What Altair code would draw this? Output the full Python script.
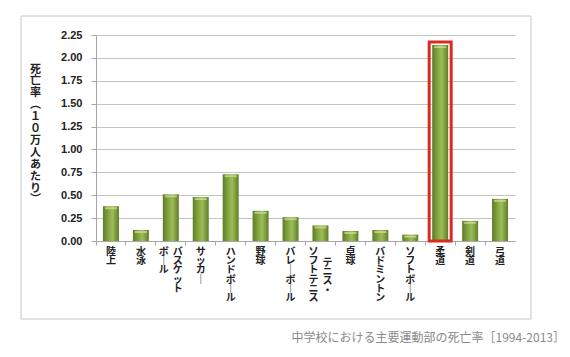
import altair as alt
import pandas as pd

categories = ["陸上", "水泳", "バスケットボール", "サッカー", "ハンドボール", "野球",
              "バレーボール", "テニス・ソフトテニス", "卓球", "バドミントン", "ソフトボール",
              "柔道", "剣道", "弓道"]
values = [0.38, 0.12, 0.51, 0.48, 0.73, 0.33, 0.26, 0.17, 0.11, 0.12, 0.07, 2.14, 0.22, 0.46]
label_columns = [["陸上"], ["水泳"], ["バスケット", "ボール"], ["サッカー"], ["ハンドボール"],
                 ["野球"], ["バレーボール"], ["テニス・", "ソフトテニス"], ["卓球"],
                 ["バドミントン"], ["ソフトボール"], ["柔道"], ["剣道"], ["弓道"]]
y_ticks = [0, 0.25, 0.5, 0.75, 1.0, 1.25, 1.5, 1.75, 2.0, 2.25]
highlight = "柔道"
y_title = "死亡率（１０万人あたり）"
caption = "中学校における主要運動部の死亡率［1994-2013］"

VERT = {"ー": "｜", "（": "︵", "）": "︶"}


def vertical(s):
    return [VERT.get(c, c) for c in s]


WIDTH, HEIGHT = 419, 206
half_band = WIDTH / len(categories) / 2

df = pd.DataFrame({"category": categories, "value": values})

rows = []
for cat, cols in zip(categories, label_columns):
    n = len(cols)
    for j, col in enumerate(cols):
        dx = 0 if n == 1 else (7 if j == 0 else -7)
        dy = 17 if (n == 2 and j == 0 and len(col) < len(cols[1])) else 6
        rows.append({"category": cat, "text": "\n".join(vertical(col)),
                     "dx": dx + half_band, "dy": dy})
labels_df = pd.DataFrame(rows)

FONT = "Noto Sans CJK JP"

grad = alt.LinearGradient(
    gradient="linear",
    stops=[alt.GradientStop(color="#5e7d28", offset=0),
           alt.GradientStop(color="#8fb14a", offset=0.45),
           alt.GradientStop(color="#9cbc57", offset=0.6),
           alt.GradientStop(color="#5e7d28", offset=1)],
    x1=0, x2=1, y1=0, y2=0)

base = alt.Chart(df)

bars = base.mark_bar(size=16, color=grad).encode(
    x=alt.X("category:N", sort=categories,
            scale=alt.Scale(paddingInner=0, paddingOuter=0),
            axis=alt.Axis(title=None, labels=False, bandPosition=0, tickSize=4,
                          domainColor="#a6a6a6", tickColor="#a6a6a6", grid=False)),
    y=alt.Y("value:Q", scale=alt.Scale(domain=[0, 2.25], nice=False),
            axis=alt.Axis(values=y_ticks, format=".2f", title=vertical(y_title),
                          titleAngle=0, titleX=-61, titleY=28, titleBaseline="top",
                          titleAlign="center", titleLineHeight=11.9, titleFontSize=11,
                          titleFont=FONT, titleFontWeight="bold", titleColor="#222222",
                          labelFont="Liberation Sans", labelFontWeight="bold",
                          labelFontSize=11, labelColor="#222222", labelPadding=9,
                          tickSize=5, tickColor="#a6a6a6", domainColor="#a6a6a6",
                          gridColor="#c4c4c4", gridWidth=1)),
)

caps = base.mark_tick(color="#cfe39a", thickness=2, size=12, yOffset=2).encode(
    x=alt.X("category:N", sort=categories, axis=None),
    y=alt.Y("value:Q", axis=None),
)

box = base.transform_filter(alt.datum.category == highlight).mark_bar(
    size=22, fillOpacity=0, stroke="#dc2a22", strokeWidth=3, yOffset=-3
).encode(
    x=alt.X("category:N", sort=categories, axis=None),
    y=alt.Y("value:Q", axis=None),
    y2=alt.value(243),
)

xlabels = alt.Chart(labels_df).mark_text(
    lineBreak="\n", baseline="top", align="center", fontSize=10, lineHeight=9.2,
    font=FONT, fontWeight="bold", color="#222222"
).encode(
    x=alt.X("category:N", sort=categories, axis=None),
    y=alt.YDatum(0, axis=None),
    xOffset=alt.XOffset("dx:Q", scale=None),
    yOffset=alt.YOffset("dy:Q", scale=None),
    text="text:N",
)

frame = alt.Chart(pd.DataFrame({"k": [0]})).mark_rect(
    fillOpacity=0, stroke="#c6c6c6", strokeWidth=1
).encode(x=alt.value(-75), x2=alt.value(435), y=alt.value(-19), y2=alt.value(284))

cap = alt.Chart(pd.DataFrame({"t": [caption]})).mark_text(
    align="right", baseline="middle", fontSize=12, font=FONT, color="#8a8a8a"
).encode(x=alt.value(469), y=alt.value(303), text="t:N")

chart = alt.layer(frame, bars, caps, box, xlabels, cap).resolve_axis(
    x="independent", y="independent"
).properties(
    width=WIDTH, height=HEIGHT,
    autosize=alt.AutoSizeParams(type="none"),
    padding={"left": 96, "top": 35, "right": 55, "bottom": 116},
    background="white",
).configure_view(stroke=None)

chart.save("out.html", embed_options={"renderer": "svg", "actions": False})
